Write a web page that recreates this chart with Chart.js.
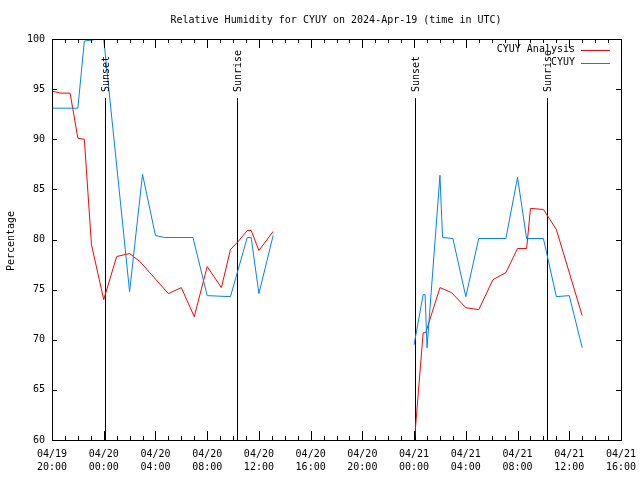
<!DOCTYPE html>
<html>
<head>
<meta charset="utf-8">
<script src="https://cdn.jsdelivr.net/npm/chart.js@4.4.1/dist/chart.umd.min.js"></script>
<style>
  html, body { margin: 0; padding: 0; background: #fff; }
</style>
</head>
<body>
<canvas id="canvas" width="640" height="480"></canvas>
<script>
// labels
const chartTitle = 'Relative Humidity for CYUY on 2024-Apr-19 (time in UTC)';
const yTitle = 'Percentage';
const seriesNames = ['CYUY Analysis', 'CYUY'];
const seriesColors = ['#ff0000', '#0080ff'];

// x axis is hours after 04/19 20:00 UTC
const xTickLabels = [
  ['04/19', '20:00'], ['04/20', '00:00'], ['04/20', '04:00'], ['04/20', '08:00'],
  ['04/20', '12:00'], ['04/20', '16:00'], ['04/20', '20:00'], ['04/21', '00:00'],
  ['04/21', '04:00'], ['04/21', '08:00'], ['04/21', '12:00'], ['04/21', '16:00']
];

// CYUY Analysis (red)
const analysisHours = [0, 0.7, 1.4, 2.0, 2.5, 3.05, 4.0, 5.0, 6.0, 6.8, 9.0, 10.0, 11.0, 12.0,
  13.1, 13.8, 14.4, 15.1, 15.4, 16.0, 17.1, 22,
  28.0, 28.7, 28.9, 30.0, 30.9, 32.0, 33.0, 34.1, 35.1, 36.0, 36.7, 37.0, 38.0, 39.0, 41.0];
const analysisValues = [94.8, 94.6, 94.6, 90.1, 90.0, 79.5, 74.0, 78.3, 78.6, 77.8, 74.6, 75.2, 72.3, 77.3,
  75.2, 79.0, 79.8, 80.9, 80.9, 78.9, 80.8, null,
  59.5, 70.7, 70.7, 75.2, 74.7, 73.2, 73.0, 76.0, 76.7, 79.1, 79.1, 83.1, 83.0, 81.0, 72.4];

// CYUY observations (blue)
const obsHours = [0, 2.0, 2.5, 3.7, 4.0, 6.0, 7.0, 8.0, 8.7, 10.9, 12.0, 13.8, 15.1, 15.4, 16.0, 17.1, 22,
  28.0, 28.7, 28.85, 29.0, 30.0, 30.2, 31.0, 32.0, 33.0, 35.1, 36.0, 36.7, 38.0, 39.0, 40.0, 41.0];
const obsValues = [93.1, 93.1, 99.8, 100.0, 100.0, 74.8, 86.5, 80.4, 80.2, 80.2, 74.4, 74.3, 80.2, 80.2, 74.6, 80.4, null,
  69.5, 74.5, 74.5, 69.2, 86.4, 80.2, 80.1, 74.3, 80.1, 80.1, 86.2, 80.1, 80.1, 74.3, 74.4, 69.2];

// sunset / sunrise markers
const sunHours = [4.137, 14.344, 28.109, 38.316];
const sunLabels = ['Sunset', 'Sunrise', 'Sunset', 'Sunrise'];
const sunTop = 94.1;

const FONT = '"DejaVu Sans Mono", "Liberation Mono", monospace';
const toPoints = (hours, values) => hours.map((h, i) => ({ x: h, y: values[i] }));

const sunSets = sunHours.map(h => ({
  data: [{ x: h, y: 60 }, { x: h, y: sunTop }],
  borderColor: '#000', borderWidth: 1, pointRadius: 0, order: 2
}));

const decor = {
  id: 'decor',
  afterDraw(chart) {
    const ctx = chart.ctx;
    const { left, right, top, bottom } = chart.chartArea;
    const xs = chart.scales.x, ys = chart.scales.y;
    ctx.save();
    ctx.strokeStyle = '#000';
    ctx.lineWidth = 1;
    ctx.strokeRect(left + 0.5, top + 0.5, right - left, bottom - top);
    ctx.beginPath();
    for (let h = 0; h <= 44; h++) {
      const px = Math.round(xs.getPixelForValue(h)) + 0.5;
      const len = h % 4 === 0 ? 9 : 4;
      ctx.moveTo(px, bottom); ctx.lineTo(px, bottom - len);
      ctx.moveTo(px, top); ctx.lineTo(px, top + len);
    }
    ys.ticks.forEach(t => {
      const py = Math.round(ys.getPixelForValue(t.value)) + 0.5;
      ctx.moveTo(left, py); ctx.lineTo(left + 5, py);
      ctx.moveTo(right, py); ctx.lineTo(right - 5, py);
    });
    ctx.stroke();

    ctx.fillStyle = '#000';
    ctx.font = '10px ' + FONT;
    ctx.textBaseline = 'middle';
    ctx.textAlign = 'center';
    ctx.fillText(chartTitle, 336, 20);

    ctx.save();
    ctx.translate(11.5, 241);
    ctx.rotate(-Math.PI / 2);
    ctx.fillText(yTitle, 0, 0);
    ctx.restore();

    sunHours.forEach((h, i) => {
      ctx.save();
      ctx.translate(xs.getPixelForValue(h) + 0.5, 92);
      ctx.rotate(-Math.PI / 2);
      ctx.textAlign = 'left';
      ctx.fillText(sunLabels[i], 0, 0);
      ctx.restore();
    });

    // legend
    seriesNames.forEach((name, i) => {
      const ly = 49.5 + i * 13;
      ctx.textAlign = 'right';
      ctx.fillStyle = '#000';
      ctx.fillText(name, 575, ly);
      ctx.strokeStyle = seriesColors[i];
      ctx.beginPath();
      ctx.moveTo(581, Math.round(ly) + 0.5);
      ctx.lineTo(610, Math.round(ly) + 0.5);
      ctx.stroke();
    });
    ctx.restore();
  }
};

new Chart(document.getElementById('canvas').getContext('2d'), {
  type: 'line',
  data: {
    datasets: [
      { label: seriesNames[1], data: toPoints(obsHours, obsValues), borderColor: seriesColors[1],
        borderWidth: 1, pointRadius: 0, tension: 0, spanGaps: false, order: 0 },
      { label: seriesNames[0], data: toPoints(analysisHours, analysisValues), borderColor: seriesColors[0],
        borderWidth: 1, pointRadius: 0, tension: 0, spanGaps: false, order: 1 }
    ].concat(sunSets)
  },
  options: {
    responsive: false,
    animation: false,
    devicePixelRatio: 1,
    layout: { padding: { top: 39, right: 19, left: 0, bottom: 0 } },
    plugins: { legend: { display: false }, tooltip: { enabled: false }, title: { display: false } },
    scales: {
      x: {
        type: 'linear', min: 0, max: 44,
        grid: { display: false, drawTicks: false },
        border: { display: false },
        afterFit: s => { s.height = 40; s.paddingLeft = 0; s.paddingRight = 0; },
        ticks: {
          stepSize: 4, autoSkip: false, maxRotation: 0, padding: 8, color: '#000',
          font: { family: FONT, size: 10, lineHeight: 1.3 },
          callback: (v, i) => xTickLabels[i]
        }
      },
      y: {
        min: 60, max: 100,
        grid: { display: false, drawTicks: false },
        border: { display: false },
        afterFit: s => { s.width = 52; s.paddingTop = 0; s.paddingBottom = 0; },
        ticks: { stepSize: 5, padding: 7, color: '#000', font: { family: FONT, size: 10 } }
      }
    }
  },
  plugins: [decor]
});
</script>
</body>
</html>
